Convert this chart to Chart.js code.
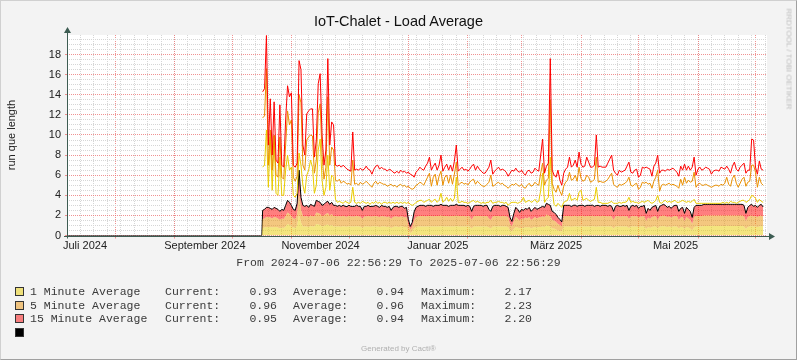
<!DOCTYPE html>
<html>
<head>
<meta charset="utf-8">
<script src="https://cdn.jsdelivr.net/npm/chart.js@4.4.1/dist/chart.umd.min.js"></script>
<style>
  html, body { margin: 0; padding: 0; background: #f3f3f3; }
  #wrap { position: relative; width: 797px; height: 360px; overflow: hidden; font-family: "Liberation Sans", Arial, sans-serif; }
  #chart { position: absolute; left: 0; top: 0; }
  .txt { position: absolute; white-space: nowrap; }
  .mono { font-family: "Liberation Mono", "DejaVu Sans Mono", monospace; font-size: 11.5px; color: #3a3a3a; }
  .sw { position: absolute; left: 15px; width: 7px; height: 7px; border: 1px solid #333; }
  #frame { position: absolute; left: 0; top: 0; width: 797px; height: 360px; box-sizing: border-box;
           border: 1px solid #d0d0d0; border-right-color: #a0a0a0; border-bottom-color: #a0a0a0; pointer-events: none; }
</style>
</head>
<body>
<div id="wrap">
  <canvas id="chart" width="797" height="360"></canvas>
  <div class="txt" style="left:0;width:797px;top:13px;text-align:center;font-size:14.5px;color:#111;">IoT-Chalet - Load Average</div>
  <div class="txt" style="left:11px;top:135px;transform:translate(-50%,-50%) rotate(-90deg);font-size:11px;color:#222;">run que length</div>
  <div class="txt" style="left:789px;top:59px;transform:translate(-50%,-50%) rotate(90deg);font-size:8px;color:#bdbdbd;">RRDTOOL / TOBI OETIKER</div>
  <div class="txt mono" style="left:0;width:797px;top:256px;text-align:center;">From 2024-07-06 22:56:29 To 2025-07-06 22:56:29</div>
  <div id="legend"></div>
  <div class="txt" style="left:0;width:797px;top:344px;text-align:center;font-size:8px;color:#b0b0b0;">Generated by Cacti®</div>
  <div id="frame"></div>
</div>
<script>
// daily values, first point is day 102 after 2024-07-06 22:56:29
const firstDay = 102;
// before the first sample the total line sits on zero
const gapDays = [0, 101.6];
const gapValues = [0, 0];

const avg1 = [
  0.75,0.8,0.85,0.85,0.85,0.8,0.85,0.85,0.8,0.7,
  0.8,0.75,0.9,1.15,1.05,0.9,0.8,0.75,1.0,2.17,
  1.3,0.9,0.9,0.9,0.85,0.95,0.9,0.9,1.15,1.1,
  1.05,0.9,0.95,1.05,1.1,0.95,1.05,0.9,0.9,0.9,
  0.9,0.88,0.92,0.9,0.87,0.91,0.9,0.89,0.9,0.92,
  0.9,0.9,0.75,0.9,0.9,0.9,0.88,0.9,0.91,0.9,
  0.9,0.85,0.9,0.9,0.9,0.85,0.9,0.75,0.85,0.9,
  0.9,0.85,0.9,0.9,0.85,0.85,0.5,0.25,0.4,0.7,
  0.85,0.9,0.9,0.9,0.9,0.9,0.9,0.9,0.9,0.9,
  0.9,0.9,0.9,0.95,0.9,0.9,0.9,0.9,0.9,0.9,
  0.9,0.95,0.9,0.9,0.9,0.9,0.9,0.9,0.9,0.7,
  0.9,0.9,0.9,0.9,0.9,0.9,0.9,0.9,0.8,0.7,
  0.9,0.9,0.9,0.9,0.9,0.9,0.9,0.9,0.85,0.5,
  0.4,0.65,0.85,0.8,0.7,0.8,0.75,0.85,0.8,0.85,
  0.7,0.8,0.85,0.8,0.85,0.85,0.9,0.85,1.0,0.95,
  0.9,0.7,0.7,0.6,0.5,0.45,0.4,0.9,0.9,0.9,
  0.9,0.88,0.9,0.92,0.9,0.89,0.9,0.91,0.9,0.9,
  0.9,0.9,0.92,0.9,0.88,0.9,0.9,0.91,0.9,0.9,
  0.9,0.9,0.9,0.7,0.9,0.9,0.9,0.9,0.9,0.9,
  0.9,0.75,0.9,0.9,0.9,0.9,0.85,0.9,0.9,0.9,
  0.65,0.85,0.75,0.85,0.9,0.9,0.7,0.9,0.9,0.95,
  0.9,0.85,0.9,0.85,0.9,0.9,0.9,0.7,0.85,0.85,
  0.65,0.85,0.8,0.7,0.5,0.85,0.9,0.9,0.9,0.9,
  0.95,0.95,0.94,0.95,0.95,0.96,0.95,0.95,0.94,0.95,
  0.95,0.95,0.96,0.95,0.95,0.94,0.95,0.95,0.95,0.95,
  0.95,0.9,0.65,0.85,0.9,0.95,0.9,0.9,0.85,0.9,
  0.95,0.93
];
const avg5 = [
  0.9,0.9,1.0,1.0,0.95,0.9,1.0,0.95,0.9,0.85,
  0.9,0.9,1.05,1.15,1.1,1.05,0.9,0.9,1.1,2.2,
  1.25,1.05,1.0,1.05,1.0,1.05,1.05,1.0,1.15,1.15,
  1.1,1.05,1.05,1.1,1.15,1.05,1.1,1.05,1.05,1.0,
  1.05,1.0,1.05,1.0,1.0,1.05,1.0,1.0,1.0,1.05,
  1.0,1.0,0.9,1.0,1.0,1.05,1.0,1.0,1.0,1.05,
  1.0,1.0,1.05,1.0,1.0,1.0,1.0,0.9,1.0,1.0,
  1.0,1.0,1.0,1.0,0.95,1.0,0.55,0.35,0.45,0.8,
  1.0,1.0,1.05,1.05,1.05,1.0,1.05,1.05,1.05,1.0,
  1.05,1.05,1.05,1.05,1.05,1.05,1.05,1.0,1.05,1.05,
  1.05,1.05,1.05,1.05,1.05,1.05,1.0,1.05,1.0,0.85,
  1.0,1.05,1.05,1.05,1.05,1.0,1.05,1.05,0.9,0.85,
  1.0,1.05,1.05,1.05,1.0,1.05,1.05,1.0,1.0,0.65,
  0.5,0.8,1.0,0.9,0.8,0.9,0.9,0.95,0.9,1.0,
  0.85,0.9,1.0,0.9,0.95,1.0,1.0,1.0,1.1,1.05,
  1.05,0.85,0.8,0.75,0.65,0.6,0.5,1.05,1.05,1.05,
  1.05,1.0,1.05,1.05,1.0,1.05,1.05,1.05,1.0,1.05,
  1.05,1.05,1.05,1.0,1.05,1.05,1.0,1.05,1.05,1.05,
  1.0,1.05,1.0,0.85,1.0,1.05,1.0,1.0,1.05,1.0,
  1.05,0.9,1.0,1.05,1.0,1.05,0.95,1.0,1.0,1.05,
  0.8,0.95,0.9,1.0,1.0,1.05,0.85,1.0,1.05,1.05,
  1.05,1.0,1.0,0.95,1.0,1.05,1.05,0.85,0.95,1.0,
  0.8,1.0,0.9,0.85,0.65,1.0,1.05,1.05,1.05,1.05,
  1.05,1.05,1.06,1.05,1.05,1.04,1.05,1.05,1.06,1.05,
  1.05,1.05,1.04,1.05,1.05,1.06,1.05,1.05,1.05,1.05,
  1.05,1.05,0.8,1.0,1.05,1.05,1.0,1.05,1.0,1.05,
  1.05,0.96
];
const avg15 = [
  0.85,0.9,0.95,0.95,0.9,0.9,0.95,0.9,0.9,0.85,
  0.9,0.85,1.05,1.2,1.15,1.05,0.9,0.85,1.1,2.13,
  1.25,1.05,1.0,1.05,0.95,1.1,1.05,1.0,1.2,1.15,
  1.15,1.05,1.1,1.15,1.15,1.1,1.15,1.05,1.05,1.0,
  1.05,1.0,1.05,1.0,1.0,1.05,1.0,1.0,1.0,1.05,
  1.0,1.0,0.85,1.0,1.0,1.05,1.0,1.0,1.0,1.05,
  1.0,0.95,1.05,1.0,1.0,0.95,1.0,0.85,0.95,1.0,
  1.0,0.95,1.0,1.0,0.9,0.95,0.55,0.3,0.45,0.85,
  0.95,1.0,1.05,1.05,1.05,1.0,1.05,1.05,1.05,1.0,
  1.05,1.05,1.05,1.1,1.05,1.05,1.05,1.0,1.05,1.05,
  1.05,1.1,1.05,1.05,1.05,1.05,1.0,1.05,1.0,0.85,
  1.0,1.05,1.05,1.05,1.05,1.0,1.05,1.05,0.9,0.85,
  1.0,1.05,1.05,1.05,1.0,1.05,1.05,1.0,0.95,0.65,
  0.5,0.75,0.95,0.9,0.8,0.9,0.85,0.9,0.9,0.95,
  0.85,0.9,0.95,0.9,0.9,0.95,1.0,0.95,1.1,1.1,
  1.05,0.85,0.8,0.75,0.65,0.55,0.45,1.05,1.05,1.05,
  1.05,1.0,1.05,1.05,1.0,1.05,1.05,1.05,1.0,1.05,
  1.05,1.05,1.05,1.0,1.05,1.05,1.0,1.05,1.05,1.05,
  1.0,1.05,1.0,0.85,1.0,1.05,1.0,1.0,1.05,1.0,
  1.05,0.85,1.0,1.05,1.0,1.05,0.9,1.0,1.0,1.05,
  0.75,0.9,0.85,0.95,1.0,1.05,0.85,1.0,1.05,1.1,
  1.05,0.95,1.0,0.9,1.0,1.05,1.05,0.85,0.9,0.95,
  0.75,0.95,0.9,0.85,0.65,0.95,1.05,1.05,1.05,1.05,
  1.1,1.1,1.1,1.1,1.1,1.1,1.1,1.1,1.1,1.1,
  1.1,1.1,1.1,1.1,1.1,1.1,1.1,1.1,1.1,1.1,
  1.1,1.05,0.75,0.95,1.05,1.1,1.0,1.05,0.95,1.05,
  1.1,0.95
];
// peak lines drawn above the stack
const peak1 = [
  6.8,7.0,10.5,4.8,9.8,4.5,9.9,4.2,4.0,7.8,
  4.0,4.0,6.5,8.0,6.5,6.8,4.0,3.8,4.2,8.2,
  7.0,5.0,4.2,6.0,6.5,7.5,6.8,4.2,5.0,8.5,
  9.6,5.5,4.0,4.8,8.0,4.5,6.0,5.8,3.6,3.3,
  3.4,3.3,3.2,3.4,3.3,3.2,3.3,4.8,3.3,3.2,
  3.3,3.2,3.4,3.3,3.2,3.3,3.1,3.3,3.2,3.4,
  3.2,3.3,3.1,3.3,3.3,3.2,3.3,3.2,3.3,3.2,
  3.3,3.2,3.3,3.2,3.3,3.2,3.3,3.1,3.0,3.1,
  3.3,3.4,3.5,3.5,3.3,3.4,3.5,3.6,3.3,3.5,
  3.6,3.3,3.5,4.2,3.3,3.5,3.8,3.4,3.7,3.4,
  3.7,5.8,3.3,3.3,3.4,3.3,3.3,3.2,3.3,3.4,
  3.5,3.3,3.4,3.3,3.2,3.3,3.2,3.3,3.3,3.5,
  3.2,3.3,3.3,3.4,3.3,3.3,3.2,3.3,3.0,3.2,
  3.3,3.3,3.3,3.2,3.3,3.4,3.8,3.3,3.4,3.5,
  3.3,3.4,3.6,3.3,3.4,4.5,6.2,3.3,3.6,3.8,
  7.8,4.5,3.1,2.9,3.2,3.0,2.8,3.3,3.4,3.5,
  4.2,3.5,3.6,3.7,3.5,4.3,4.5,3.5,3.6,3.7,
  3.5,3.4,3.5,3.6,4.8,3.3,3.3,3.2,3.2,3.2,
  3.2,3.3,3.4,3.2,3.2,3.2,3.3,3.2,3.3,3.3,
  3.4,3.8,3.3,3.4,3.3,3.3,3.2,3.3,3.4,3.3,
  3.4,3.5,3.3,3.2,3.3,3.5,4.0,3.3,3.2,3.4,
  3.5,3.3,3.4,3.3,3.4,3.5,3.3,3.3,3.4,3.5,
  3.4,3.3,3.4,3.3,3.4,3.6,3.2,3.2,3.2,3.2,
  3.2,3.2,3.2,3.2,3.2,3.2,3.2,3.2,3.2,3.2,
  3.3,3.2,3.3,3.2,3.4,3.3,3.3,3.2,3.3,3.4,
  3.5,3.5,3.3,3.4,3.6,4.0,3.9,3.7,3.3,3.6,
  3.4,3.3
];
const peak5 = [
  11.7,11.9,16.6,7.0,10.5,6.5,10.0,6.0,5.8,9.8,
  5.8,5.6,9.0,12.4,11.0,11.5,5.8,5.4,5.9,14.0,
  13.2,7.0,6.5,9.5,9.8,10.0,9.9,6.2,7.5,12.2,
  13.1,8.0,5.6,6.8,13.8,7.0,8.8,8.5,5.5,5.4,
  5.6,5.2,5.4,5.3,5.1,5.2,5.0,7.5,5.1,5.2,
  5.0,5.3,5.1,5.2,5.4,5.2,5.0,4.8,5.2,5.4,
  5.1,5.3,5.2,5.1,5.1,4.9,5.0,5.1,4.9,5.0,
  4.8,5.0,5.1,4.9,5.0,4.8,4.9,4.7,4.6,4.7,
  5.0,5.1,5.3,5.2,5.0,5.4,5.8,6.2,4.9,5.8,
  6.1,5.0,5.9,6.4,5.0,5.8,6.0,5.2,6.0,5.1,
  6.1,7.3,5.0,5.2,5.3,5.1,5.2,5.0,5.3,5.5,
  5.6,5.1,5.4,5.2,5.0,4.9,4.9,5.1,5.3,6.0,
  4.9,5.0,5.2,5.3,5.1,5.2,5.0,4.9,4.7,4.9,
  5.1,5.0,5.2,5.0,4.9,5.1,4.8,4.7,5.0,5.2,
  4.9,5.0,5.3,5.1,5.0,6.2,7.2,5.0,5.5,5.7,
  13.5,5.2,4.6,4.3,5.0,4.4,4.0,4.9,5.3,5.5,
  6.3,5.5,5.6,6.0,5.4,6.8,5.7,5.4,5.5,6.0,
  5.8,5.3,5.4,5.6,7.8,5.3,5.4,5.3,5.3,5.4,
  5.6,5.9,6.2,5.1,4.9,4.8,5.1,5.0,5.1,5.2,
  5.4,5.8,5.0,4.9,5.1,5.2,4.6,4.8,5.3,5.2,
  5.3,5.1,5.2,4.7,5.4,5.8,6.5,4.4,5.0,5.1,
  5.0,5.1,5.2,5.0,5.1,5.0,4.9,4.7,5.6,5.0,
  5.8,5.2,5.5,5.3,5.4,6.3,4.8,5.1,5.2,5.0,
  5.0,5.1,5.0,4.9,4.8,4.9,5.0,5.0,4.9,5.1,
  5.0,5.2,5.8,5.1,4.9,5.7,6.0,5.2,4.8,5.2,
  5.6,5.8,4.9,5.3,5.4,7.0,7.0,6.3,4.8,5.8,
  5.2,5.0
];
const peak15 = [
  14.3,14.6,19.9,9.0,13.6,8.0,13.3,7.5,7.2,13.0,
  7.0,6.8,11.5,14.9,13.8,14.2,7.0,6.8,7.2,17.4,
  16.5,9.0,8.0,12.1,12.4,12.6,12.6,7.8,9.5,15.1,
  16.1,10.0,7.0,8.5,17.6,9.0,11.3,11.0,7.0,6.9,
  7.0,6.8,7.0,6.8,6.6,6.5,6.4,10.3,6.5,6.6,
  6.5,6.7,6.5,6.6,6.9,6.6,6.5,6.1,6.6,6.9,
  7.0,6.6,6.8,6.6,6.6,6.4,6.6,6.5,6.3,6.2,
  6.4,6.2,6.5,6.3,6.4,6.2,6.3,6.1,6.0,5.8,
  6.3,6.5,6.8,6.6,6.5,6.9,7.2,7.8,6.5,6.9,
  7.2,6.5,7.0,8.0,6.4,6.8,7.1,6.5,7.0,6.4,
  7.4,9.0,6.4,6.6,6.8,6.5,6.6,6.4,6.6,6.9,
  7.1,6.5,6.9,6.6,6.4,6.2,6.2,6.5,6.8,7.5,
  6.1,6.4,6.6,6.8,6.5,6.6,6.5,6.3,5.9,6.2,
  6.5,6.4,6.7,6.4,6.3,6.5,6.2,6.0,6.4,6.5,
  6.2,6.3,6.7,6.5,6.4,8.0,9.6,6.2,6.9,7.2,
  17.6,6.5,6.0,5.8,6.5,5.5,5.0,6.2,6.6,6.8,
  7.8,6.8,7.0,7.5,6.8,8.3,7.1,6.8,6.9,7.8,
  7.3,6.8,6.8,7.0,10.0,6.8,6.9,6.8,6.8,6.8,
  7.2,7.6,8.0,6.5,6.2,6.0,6.5,6.3,6.4,6.5,
  6.9,7.3,6.3,6.2,6.5,6.6,5.8,6.0,6.8,6.7,
  6.8,6.7,6.6,5.9,6.9,7.2,8.0,6.2,6.5,6.5,
  6.4,6.6,6.5,6.6,6.7,6.5,6.3,5.9,6.9,6.5,
  7.1,6.5,6.9,6.5,6.8,7.8,6.0,6.6,6.8,6.5,
  6.6,6.8,6.7,6.6,6.1,6.4,6.5,6.5,6.4,6.8,
  6.7,6.6,6.9,6.6,6.2,6.9,7.3,6.6,6.4,6.8,
  7.0,7.2,6.2,6.5,6.5,9.6,9.5,6.8,6.1,7.4,
  6.6,6.5
];

// x axis: two-monthly labels and the moments they are centred on
const labelTexts = ['Juli 2024', 'September 2024', 'November 2024', 'Januar 2025', 'März 2025', 'Mai 2025'];
const labelTimes = ['2024-07-16T08:00', '2024-09-16T20:00', '2024-11-16T04:00', '2025-01-16T08:00', '2025-03-18T23:00', '2025-05-20T06:00'];
const yLabels = [0, 2, 4, 6, 8, 10, 12, 14, 16, 18];

// legend
const legendNames = ['1 Minute Average', '5 Minute Average', '15 Minute Average'];
const legendColors = ['#eee07a', '#efc37f', '#f77d7d'];
const curValues = ['0.93', '0.96', '0.95'];
const avgValues = ['0.94', '0.96', '0.94'];
const maxValues = ['2.17', '2.23', '2.20'];

const start = Date.UTC(2024, 6, 6, 22, 56, 29);
const dayOf = (y, m, d) => (Date.UTC(y, m, d) - start) / 864e5;
const span = 365;

const xTicks = [];
for (let d = dayOf(2024, 6, 7); d < span; d += 7) xTicks.push({ value: d, kind: 'week', text: '' });
for (let m = 7; m <= 18; m++) xTicks.push({ value: dayOf(2024, m, 1), kind: 'month', text: '' });
labelTimes.forEach((t, i) => xTicks.push({ value: (Date.parse(t + 'Z') - start) / 864e5, kind: 'label', text: labelTexts[i] }));
xTicks.sort((a, b) => a.value - b.value);

const series = (vals) => gapDays.map((d, i) => ({ x: d, y: gapValues[i] }))
  .concat(vals.map((v, i) => ({ x: firstDay + i, y: v })));
const line = (vals) => vals.map((v, i) => ({ x: firstDay + i, y: v }));

const minorGrid = '#d6d6d6';
const majorGrid = 'rgba(235,110,110,0.75)';

const plotBg = {
  id: 'plotBg',
  beforeDraw(chart) {
    const { ctx, chartArea: a } = chart;
    ctx.save();
    ctx.fillStyle = '#ffffff';
    ctx.fillRect(a.left, a.top, a.right - a.left, a.bottom - a.top);
    ctx.restore();
  }
};

const axes = {
  id: 'axes',
  afterDraw(chart) {
    const { ctx, chartArea: a } = chart;
    const col = '#3d5c52';
    const yb = Math.round(a.bottom) + 0.5;
    ctx.save();
    ctx.strokeStyle = col;
    ctx.fillStyle = col;
    ctx.lineWidth = 1;
    ctx.beginPath();
    ctx.moveTo(a.left - 3, yb);
    ctx.lineTo(a.right + 3, yb);
    ctx.moveTo(a.left + 0.5, a.bottom + 3);
    ctx.lineTo(a.left + 0.5, a.top - 3);
    ctx.stroke();
    ctx.beginPath();
    ctx.moveTo(a.right + 8, yb);
    ctx.lineTo(a.right + 2, yb - 3.5);
    ctx.lineTo(a.right + 2, yb + 3.5);
    ctx.closePath();
    ctx.fill();
    ctx.beginPath();
    ctx.moveTo(a.left + 0.5, a.top - 8);
    ctx.lineTo(a.left - 3, a.top - 2);
    ctx.lineTo(a.left + 4, a.top - 2);
    ctx.closePath();
    ctx.fill();
    ctx.restore();
  }
};

new Chart(document.getElementById('chart').getContext('2d'), {
  type: 'line',
  data: {
    datasets: [
      { label: '1 Minute Average', data: series(avg1), order: 3, fill: 'origin',
        backgroundColor: 'rgba(234,204,0,0.5)', borderColor: 'rgba(0,0,0,0)', borderWidth: 0 },
      { label: '5 Minute Average', data: series(avg5), order: 4, fill: '-1',
        backgroundColor: 'rgba(234,143,0,0.5)', borderColor: 'rgba(0,0,0,0)', borderWidth: 0 },
      { label: '15 Minute Average', data: series(avg15), order: 5, fill: '-1',
        backgroundColor: 'rgba(255,0,0,0.5)', borderColor: '#000000', borderWidth: 1 },
      { label: 'peak 1', data: line(peak1), order: 2, stack: 'p1', fill: false, borderColor: '#eacc00', borderWidth: 1 },
      { label: 'peak 5', data: line(peak5), order: 1, stack: 'p5', fill: false, borderColor: '#ea8f00', borderWidth: 1 },
      { label: 'peak 15', data: line(peak15), order: 0, stack: 'p15', fill: false, borderColor: '#ff0000', borderWidth: 1 }
    ]
  },
  options: {
    responsive: false,
    animation: false,
    devicePixelRatio: 1,
    layout: { padding: { top: 35, right: 30, bottom: 104.5, left: 0 } },
    plugins: { legend: { display: false }, tooltip: { enabled: false }, title: { display: false } },
    elements: { point: { radius: 0 }, line: { tension: 0 } },
    scales: {
      x: {
        type: 'linear', min: 0, max: span,
        afterFit(s) { s.height = 20; },
        afterBuildTicks(s) { s.ticks = xTicks.map(t => ({ value: t.value })); },
        ticks: {
          autoSkip: false, maxRotation: 0, padding: 1, color: '#222',
          font: { family: 'Liberation Sans', size: 11 },
          callback: (v, i) => xTicks[i].text
        },
        grid: {
          lineWidth: 1, tickLength: 3,
          color: c => xTicks[c.index].kind === 'month' ? majorGrid : (xTicks[c.index].kind === 'week' ? minorGrid : 'rgba(0,0,0,0)'),
          tickColor: c => xTicks[c.index].kind === 'month' ? majorGrid : 'rgba(0,0,0,0)'
        },
        border: { display: false, dash: [1, 1] }
      },
      y: {
        stacked: true, min: 0, max: 19.95,
        afterFit(s) { s.width = 67; },
        afterBuildTicks(s) {
          const t = [];
          for (let v = 0; v < 19.9; v += 0.5) t.push({ value: v });
          s.ticks = t;
        },
        ticks: {
          autoSkip: false, padding: 4, color: '#222',
          font: { family: 'Liberation Sans', size: 11 },
          callback: v => yLabels.includes(v) ? String(v) : ''
        },
        grid: {
          lineWidth: 1, tickLength: 2,
          color: c => yLabels.includes(c.tick.value) ? majorGrid : minorGrid,
          tickColor: c => yLabels.includes(c.tick.value) ? majorGrid : 'rgba(0,0,0,0)'
        },
        border: { display: false, dash: [1, 1] }
      }
    }
  },
  plugins: [plotBg, axes]
});

// legend block under the graph
const legend = document.getElementById('legend');
const rowTops = [285, 298.5, 312, 325.5];
legendNames.forEach((name, i) => {
  const top = rowTops[i];
  legend.insertAdjacentHTML('beforeend',
    `<div class="sw" style="top:${top + 2}px;background:${legendColors[i]}"></div>` +
    `<div class="txt mono" style="left:30px;top:${top}px">${name}</div>` +
    `<div class="txt mono" style="left:165px;top:${top}px">Current:</div>` +
    `<div class="txt mono" style="left:200px;width:77px;text-align:right;top:${top}px">${curValues[i]}</div>` +
    `<div class="txt mono" style="left:293px;top:${top}px">Average:</div>` +
    `<div class="txt mono" style="left:330px;width:74px;text-align:right;top:${top}px">${avgValues[i]}</div>` +
    `<div class="txt mono" style="left:421px;top:${top}px">Maximum:</div>` +
    `<div class="txt mono" style="left:460px;width:72px;text-align:right;top:${top}px">${maxValues[i]}</div>`);
});
legend.insertAdjacentHTML('beforeend', `<div class="sw" style="top:${rowTops[3] + 2}px;background:#000"></div>`);
</script>
</body>
</html>
